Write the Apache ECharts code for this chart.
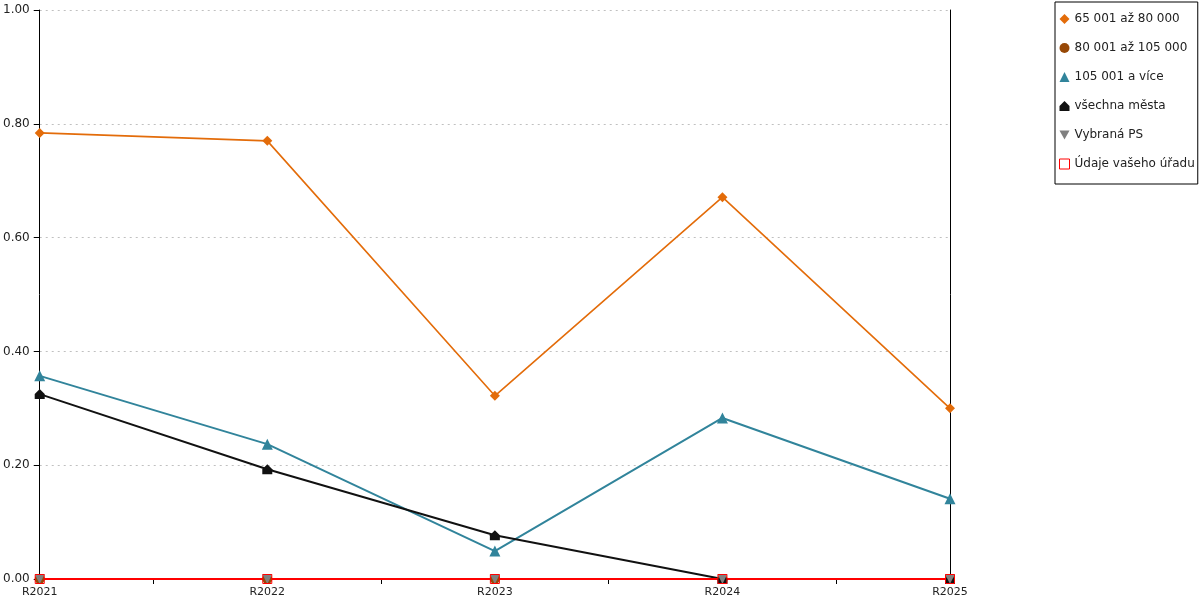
<!DOCTYPE html>
<html>
<head>
<meta charset="utf-8">
<script src="https://cdn.jsdelivr.net/npm/echarts@6/dist/echarts.min.js"></script>
<style>
  html, body { margin: 0; padding: 0; background: #fff; }
  #chart { width: 1200px; height: 600px; }
</style>
</head>
<body>
<div id="chart"></div>
<script>
const years = ["R2021", "R2022", "R2023", "R2024", "R2025"];
const seriesNames = ["65 001 až 80 000", "80 001 až 105 000", "105 001 a více", "všechna města", "Vybraná PS", "Údaje vašeho úřadu"];
const s65to80 = [0.784, 0.770, 0.322, 0.671, 0.300];
const s80to105 = [0, 0, 0, 0, 0];
const s105plus = [0.357, 0.237, 0.049, 0.283, 0.141];
const allCities = [0.325, 0.193, 0.077, 0, 0];
const selectedPS = [0, 0, 0, 0, 0];
const yourOffice = [0, 0, 0, 0, 0];

const colors = ["#E36C0A", "#974806", "#31849B", "#111111", "#808080", "#FF0000"];
const houseIcon = "path://M5,0 L10,5 L10,10 L0,10 L0,5 Z";
const downTriangle = "path://M0,0 L10,0 L5,9 Z";
const symbols = ["diamond", "circle", "triangle", houseIcon, downTriangle, "rect"];
const sizes = [10, 10, 11, 10, 10, 9];
const values = [s65to80, s80to105, s105plus, allCities, selectedPS, yourOffice];
const widths = [1.6, 2, 2, 2, 2, 2];

const font = "DejaVu Sans";

const series = values.map((data, i) => ({
    name: seriesNames[i],
    type: "line",
    data: data,
    symbol: symbols[i],
    symbolSize: sizes[i],
    showAllSymbol: true,
    lineStyle: { color: colors[i], width: widths[i] },
    itemStyle: i === 5
        ? { color: "rgba(0,0,0,0)", borderColor: colors[i], borderWidth: 1 }
        : { color: colors[i] },
    emphasis: { disabled: true }
}));

const legendData = seriesNames.map((name, i) => ({
    name: name,
    icon: i === 5 ? "rect" : symbols[i],
    itemStyle: i === 5
        ? { color: "#fff", borderColor: colors[i], borderWidth: 1 }
        : { color: colors[i] }
}));

const chart = echarts.init(document.getElementById("chart"));
chart.setOption({
    animation: false,
    textStyle: { fontFamily: font },
    grid: { left: 39, right: 250, top: 10, bottom: 21 },
    legend: {
        orient: "vertical",
        left: 1055,
        top: 2,
        padding: [11, 3, 14, 4],
        itemGap: 17,
        itemWidth: 10,
        itemHeight: 10,
        borderColor: "#000",
        borderWidth: 1,
        backgroundColor: "#fff",
        textStyle: { fontFamily: font, fontSize: 12, color: "#222" },
        data: legendData
    },
    xAxis: [{
        type: "category",
        data: years,
        boundaryGap: false,
        axisLine: { lineStyle: { color: "#000" } },
        axisTick: { show: false },
        axisLabel: { fontFamily: font, fontSize: 11, color: "#222", margin: 8 }
    }, {
        type: "value",
        position: "bottom",
        min: 0,
        max: 4,
        interval: 0.5,
        axisLine: { show: false },
        axisTick: { show: true, length: 5, lineStyle: { color: "#000" } },
        axisLabel: { show: false },
        splitLine: { show: false }
    }],
    yAxis: [{
        type: "value",
        min: 0,
        max: 1,
        interval: 0.2,
        axisLine: { show: true, lineStyle: { color: "#000" } },
        axisTick: { show: true, length: 6, lineStyle: { color: "#000" } },
        axisLabel: {
            fontFamily: font, fontSize: 12, color: "#222", margin: 10,
            formatter: v => v.toFixed(2)
        },
        splitLine: { show: true, lineStyle: { color: "#c0c0c0", type: [2, 4] } }
    }, {
        type: "value",
        position: "right",
        min: 0,
        max: 1,
        interval: 0.2,
        axisLine: { show: true, lineStyle: { color: "#000" } },
        axisTick: { show: false },
        axisLabel: { show: false },
        splitLine: { show: false }
    }],
    series: series
});
</script>
</body>
</html>
